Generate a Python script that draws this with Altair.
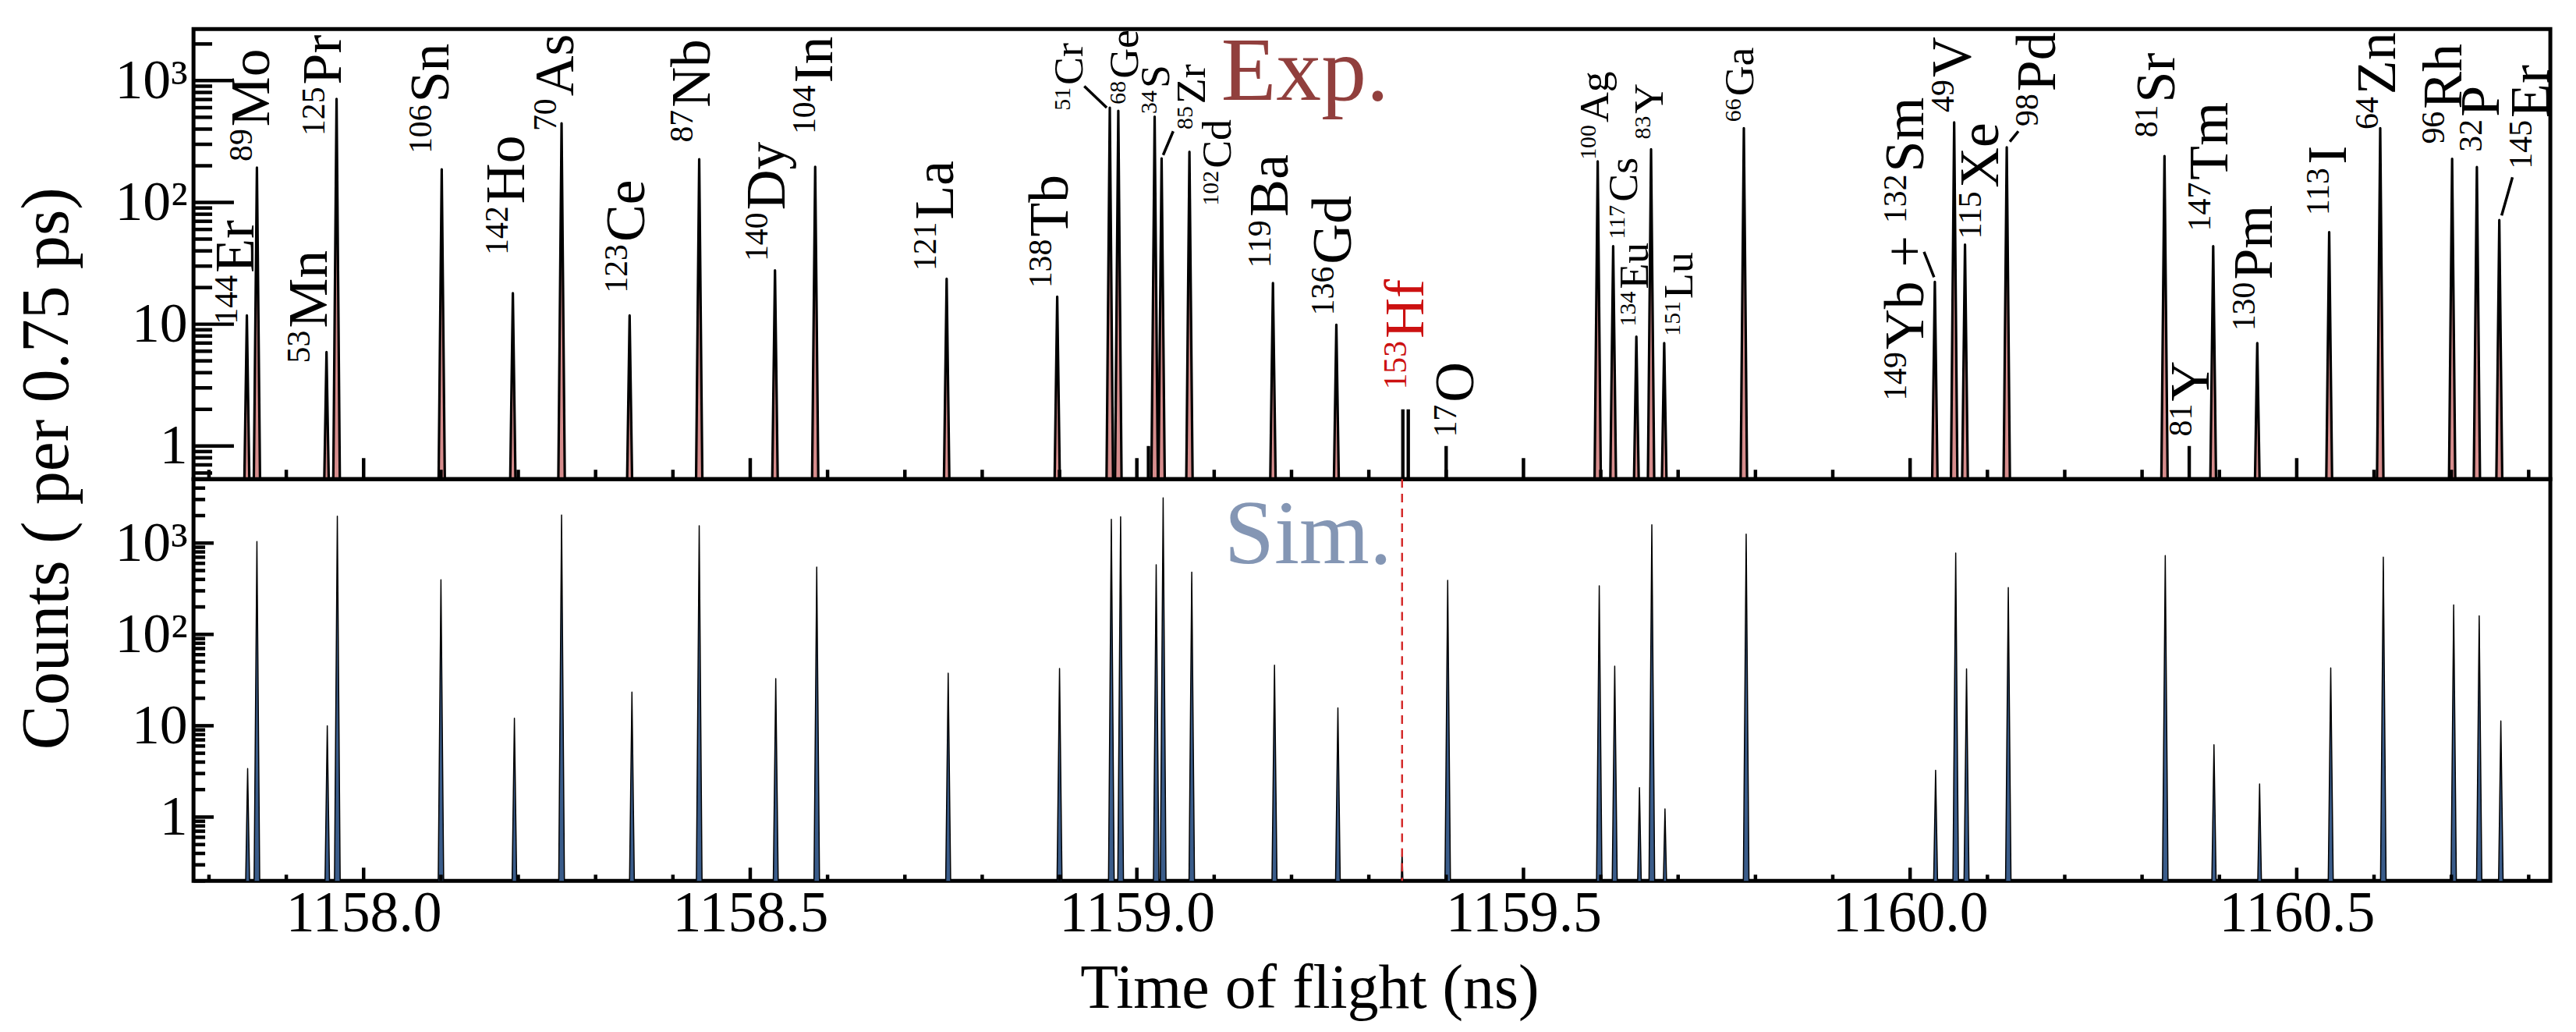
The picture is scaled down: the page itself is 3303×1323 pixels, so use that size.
import altair as alt
import pandas as pd

FONT = "Liberation Serif"

# ---------------- data ----------------
# Experimental spectrum: peak centre (ns) and peak height (counts / bin)
exp_tof = [1157.849, 1157.862, 1157.952, 1157.965, 1158.101, 1158.193, 1158.256, 1158.344,
           1158.434, 1158.532, 1158.584, 1158.754, 1158.897, 1158.965, 1158.976, 1159.023,
           1159.032, 1159.068, 1159.176, 1159.258, 1159.596, 1159.616, 1159.646, 1159.665,
           1159.682, 1159.785, 1160.032, 1160.057, 1160.071, 1160.125, 1160.329, 1160.392,
           1160.449, 1160.542, 1160.608, 1160.701, 1160.733, 1160.762]
exp_counts = [11.8, 193, 5.9, 708, 187, 18, 446, 11.8,
              226, 27.7, 196, 23.6, 16.8, 600, 565, 505,
              230, 260, 21.8, 9.9, 217, 43.8, 7.9, 273,
              7.0, 407, 22.3, 454, 45, 284, 240, 43.8,
              7.0, 57, 407, 228, 195, 71.6]

# Experimental single-bin events
single_tof = [1159.015, 1159.344, 1159.351, 1159.400, 1160.361]
single_counts = [1, 2, 2, 1, 1]

# Simulated spectrum
sim_tof = [1157.850, 1157.862, 1157.953, 1157.966, 1158.100, 1158.195, 1158.256, 1158.347,
           1158.434, 1158.533, 1158.586, 1158.756, 1158.900, 1158.967, 1158.979, 1159.025,
           1159.034, 1159.071, 1159.178, 1159.260, 1159.343, 1159.402, 1159.598, 1159.618,
           1159.650, 1159.666, 1159.683, 1159.788, 1160.033, 1160.059, 1160.073, 1160.127,
           1160.330, 1160.393, 1160.452, 1160.544, 1160.612, 1160.703, 1160.736, 1160.764]
sim_counts = [3.4, 1038, 10, 1973, 396, 12.1, 2030, 23.4,
              1545, 32.8, 545, 37.6, 42.3, 1817, 1940, 580,
              3134, 480, 46, 15.7, 0.41, 390, 340, 45,
              2.1, 1588, 1.23, 1254, 3.25, 777, 42, 325,
              728, 6.2, 2.3, 43, 702, 210, 160, 11.3]

# Isotope labels
label_mass = ["144", "89", "53", "125", "106", "142", "70", "123", "87", "140",
              "104", "121", "138", "51", "68", "34", "85", "102", "119", "136",
              "153", "17", "100", "117", "134", "83", "151", "66", "149", "132",
              "49", "115", "98", "81", "81", "147", "130", "113", "64", "96",
              "32", "145"]
label_elem = ["Er", "Mo", "Mn", "Pr", "Sn", "Ho", "As", "Ce", "Nb", "Dy",
              "In", "La", "Tb", "Cr", "Ge", "S", "Zr", "Cd", "Ba", "Gd",
              "Hf", "O", "Ag", "Cs", "Eu", "Y", "Lu", "Ga", "Yb +", "Sm",
              "V", "Xe", "Pd", "Sr", "Y", "Tm", "Pm", "I", "Zn", "Rh",
              "P", "Er"]
label_tof = [1157.858, 1157.878, 1157.952, 1157.971, 1158.110, 1158.208, 1158.271, 1158.363, 1158.448, 1158.544,
             1158.606, 1158.762, 1158.911, 1158.930, 1159.001, 1159.042, 1159.088, 1159.121, 1159.195, 1159.277,
             1159.370, 1159.435, 1159.609, 1159.647, 1159.661, 1159.680, 1159.718, 1159.797, 1160.017, 1160.017,
             1160.078, 1160.114, 1160.187, 1160.342, 1160.386, 1160.410, 1160.468, 1160.564, 1160.627, 1160.713,
             1160.761, 1160.826]
label_counts = [10.0, 217, 4.8, 352, 251, 37, 385, 18, 311, 32.8,
                363, 27.4, 19.8, 567, 639, 534, 397, 94, 29, 11.8,
                2.9, 1.18, 224, 50, 9.6, 330, 8.0, 459, 2.35, 67.5,
                550, 50, 421, 341, 1.2, 58, 8.8, 78, 397, 302,
                260, 188]

# Leader lines (start / end)
leader_tof1 = [1158.932, 1159.047, 1160.018, 1160.129, 1160.779]
leader_cnt1 = [900, 384, 39.3, 315, 161]
leader_tof2 = [1158.961, 1159.034, 1160.031, 1160.140, 1160.765]
leader_cnt2 = [601, 245, 24.3, 384, 78]

# Panel tags
tag_text = ["Exp.", "Sim."]
tag_tof = [1159.109, 1159.113]
tag_counts = [693, 598]

# Reference (dashed) line position
ref_tof = [1159.343]

# Axis ticks
x_major = [1158.0, 1158.5, 1159.0, 1159.5, 1160.0, 1160.5]
x_minor = [1157.8, 1157.9, 1158.1, 1158.2, 1158.3, 1158.4, 1158.6, 1158.7, 1158.8, 1158.9,
           1159.1, 1159.2, 1159.3, 1159.4, 1159.6, 1159.7, 1159.8, 1159.9, 1160.1, 1160.2,
           1160.3, 1160.4, 1160.6, 1160.7, 1160.8]
y_major = [1, 10, 100, 1000]
top_y_minor = [0.6, 0.7, 0.8, 0.9] + [m * d for d in (1, 10, 100) for m in range(2, 10)] + [2000]
bot_y_minor = [0.2, 0.3, 0.4, 0.5, 0.6, 0.7, 0.8, 0.9] + [m * d for d in (1, 10, 100) for m in range(2, 10)] + [2000, 3000, 4000]

# ---------------- style ----------------
SMALL = {"51Cr", "68Ge", "34S", "85Zr", "102Cd", "100Ag", "117Cs", "134Eu", "83Y", "151Lu", "66Ga"}
HIGHLIGHT = {"153Hf"}
TOP_FLOOR, TOP_CEIL = 0.535, 2650
BOT_FLOOR, BOT_CEIL = 0.2, 5020
W, H_TOP, H_BOT = 3033, 579, 517
EXP_HW, SIM_HW, BIN_HW = 0.0056, 0.0046, 0.0022
SPIKE_BASE = 0.1   # spikes start one decade below the panel floor (clipped)

xs = alt.Scale(domain=[1157.780, 1160.828], nice=False, zero=False)
ys_top = alt.Scale(type="log", domain=[TOP_FLOOR, TOP_CEIL], nice=False)
ys_bot = alt.Scale(type="log", domain=[BOT_FLOOR, BOT_CEIL], nice=False)

LBL = ("datum.value == 1000 ? '10\u00b3' : datum.value == 100 ? '10\u00b2' : "
       "datum.value == 10 ? '10' : datum.value == 1 ? '1' : ''")

y_axis_top = alt.Axis(values=y_major, labelExpr=LBL, ticks=False, domain=False, grid=False,
                      labelFont=FONT, labelFontSize=72, labelPadding=8, labelColor="black",
                      labelLimit=0,
                      title="Counts ( per 0.75 ps)", titleFont=FONT, titleFontSize=86,
                      titleFontWeight="normal", titleColor="black", titleAngle=270,
                      titleBaseline="middle", titleAlign="center", titleX=-188, titleY=565,
                      titleLimit=0)
y_axis_bot = alt.Axis(values=y_major, labelExpr=LBL, ticks=False, domain=False, grid=False,
                      labelFont=FONT, labelFontSize=72, labelPadding=8, labelColor="black",
                      labelLimit=0, title=None)
x_axis_bot = alt.Axis(values=x_major, format=".1f", ticks=False, domain=False, grid=False,
                      labelFont=FONT, labelFontSize=74, labelPadding=6, labelColor="black",
                      labelFlush=False, labelLimit=0, labelOverlap=False,
                      title="Time of flight (ns)", titleFont=FONT,
                      titleFontSize=80, titleFontWeight="normal", titleColor="black",
                      titleX=1436, titleY=163, titleBaseline="alphabetic", titleAlign="center",
                      titleLimit=0)


def spikes(tofs, counts, hw, floor):
    base = floor * SPIKE_BASE
    rows = []
    for i, (t, c) in enumerate(zip(tofs, counts)):
        rows.append(dict(pk=i, t=t - hw, c=base, b=base))
        rows.append(dict(pk=i, t=t, c=c, b=base))
        rows.append(dict(pk=i, t=t + hw, c=base, b=base))
    return pd.DataFrame(rows)


exp_df = spikes(exp_tof, exp_counts, EXP_HW, TOP_FLOOR)
sim_df = spikes(sim_tof, sim_counts, SIM_HW, BOT_FLOOR)
single_df = pd.DataFrame({"t1": [t - BIN_HW for t in single_tof],
                          "t2": [t + BIN_HW for t in single_tof],
                          "c": single_counts, "b": TOP_FLOOR})
lab_df = pd.DataFrame({"mass": label_mass, "elem": label_elem, "t": label_tof, "c": label_counts})
lab_df["key"] = lab_df["mass"] + lab_df["elem"]
lab_df["small"] = lab_df["key"].isin(SMALL).map({True: "s", False: "n"})
lab_df["nd"] = lab_df["mass"].str.len()
lab_df["col"] = lab_df["key"].map(lambda k: "#CC1111" if k in HIGHLIGHT else "black")
lead_df = pd.DataFrame({"t1": leader_tof1, "c1": leader_cnt1, "t2": leader_tof2, "c2": leader_cnt2})
tag_df = pd.DataFrame({"text": tag_text, "t": tag_tof, "c": tag_counts})
ref_df = pd.DataFrame({"t": ref_tof})


def tick_layers(ys, yaxis, xaxis, y_minor, h, ymaj, ymin, xmaj, xmin):
    out = []
    for vals, ln in ((y_major, ymaj), (y_minor, ymin)):
        out.append(alt.Chart(pd.DataFrame({"v": vals})).mark_rule(color="black", strokeWidth=4.5)
                   .encode(y=alt.Y("v:Q", scale=ys, axis=yaxis), x=alt.value(0), x2=alt.value(ln)))
    for vals, ln in ((x_major, xmaj), (x_minor, xmin)):
        out.append(alt.Chart(pd.DataFrame({"v": vals})).mark_rule(color="black", strokeWidth=4.5)
                   .encode(x=alt.X("v:Q", scale=xs, axis=xaxis), y=alt.value(h), y2=alt.value(h - ln)))
    return out


# ---------------- top panel (experiment) ----------------
exp_area = alt.Chart(exp_df).mark_area(fill="#D68C8C", stroke="black", strokeWidth=3.2,
                                       strokeJoin="round", clip=True).encode(
    x=alt.X("t:Q", scale=xs, axis=None),
    y=alt.Y("c:Q", scale=ys_top, axis=y_axis_top, stack=None),
    y2="b:Q",
    detail="pk:N",
)
single_bars = alt.Chart(single_df).mark_rect(color="black").encode(
    x=alt.X("t1:Q", scale=xs, axis=None), x2="t2:Q",
    y=alt.Y("c:Q", scale=ys_top, axis=y_axis_top), y2="b:Q",
)
leaders = alt.Chart(lead_df).mark_rule(color="black", strokeWidth=3.5).encode(
    x=alt.X("t1:Q", scale=xs, axis=None), x2="t2:Q",
    y=alt.Y("c1:Q", scale=ys_top, axis=y_axis_top), y2="c2:Q",
)

label_layers = []
for size in ("n", "s"):
    mf = 42 if size == "n" else 30
    ef = 72 if size == "n" else 54
    rise = 22 if size == "n" else 16
    base = alt.Chart(lab_df).transform_filter(alt.datum.small == size)
    enc = dict(x=alt.X("t:Q", scale=xs, axis=None),
               y=alt.Y("c:Q", scale=ys_top, axis=y_axis_top),
               color=alt.Color("col:N", scale=None))
    label_layers.append(base.mark_text(angle=270, align="left", baseline="alphabetic", font=FONT,
                                       fontSize=mf, dy=-rise).encode(text="mass:N", **enc))
    for nd in (2, 3):
        label_layers.append(base.transform_filter(alt.datum.nd == nd)
                            .mark_text(angle=270, align="left", baseline="alphabetic", font=FONT,
                                       fontSize=ef, dx=nd * 0.5 * mf + 3)
                            .encode(text="elem:N", **enc))

exp_tag = alt.Chart(tag_df.iloc[[0]]).mark_text(align="left", baseline="alphabetic", font=FONT,
                                                fontSize=116, color="#913F3D").encode(
    x=alt.X("t:Q", scale=xs, axis=None),
    y=alt.Y("c:Q", scale=ys_top, axis=y_axis_top), text="text:N")

top = alt.layer(
    exp_area, single_bars,
    *tick_layers(ys_top, y_axis_top, None, top_y_minor, H_TOP, 52, 24, 27, 12),
    leaders, *label_layers, exp_tag,
).properties(width=W, height=H_TOP)

# ---------------- bottom panel (simulation) ----------------
sim_area = alt.Chart(sim_df).mark_area(fill="#3A5C8A", stroke="black", strokeWidth=1.5,
                                       strokeJoin="round", clip=True).encode(
    x=alt.X("t:Q", scale=xs, axis=x_axis_bot),
    y=alt.Y("c:Q", scale=ys_bot, axis=y_axis_bot, stack=None),
    y2="b:Q",
    detail="pk:N",
)
ref_line = alt.Chart(ref_df).mark_rule(color="#D42A2A", strokeWidth=2.5, strokeDash=[11, 8]).encode(
    x=alt.X("t:Q", scale=xs, axis=x_axis_bot))
sim_tag = alt.Chart(tag_df.iloc[[1]]).mark_text(align="left", baseline="alphabetic", font=FONT,
                                                fontSize=116, color="#8496B4").encode(
    x=alt.X("t:Q", scale=xs, axis=x_axis_bot),
    y=alt.Y("c:Q", scale=ys_bot, axis=y_axis_bot), text="text:N")

bottom = alt.layer(
    sim_area, ref_line,
    *tick_layers(ys_bot, y_axis_bot, x_axis_bot, bot_y_minor, H_BOT, 26, 15, 17, 8),
    sim_tag,
).properties(width=W, height=H_BOT)

chart = (
    alt.vconcat(top, bottom, spacing=0, bounds="flush")
    .properties(padding={"left": 7, "top": 22, "right": 10, "bottom": 4}, background="white")
    .configure(font=FONT, view=alt.ViewConfig(stroke="black", strokeWidth=5))
)

chart.save("out.html", embed_options={"renderer": "svg", "actions": False})
